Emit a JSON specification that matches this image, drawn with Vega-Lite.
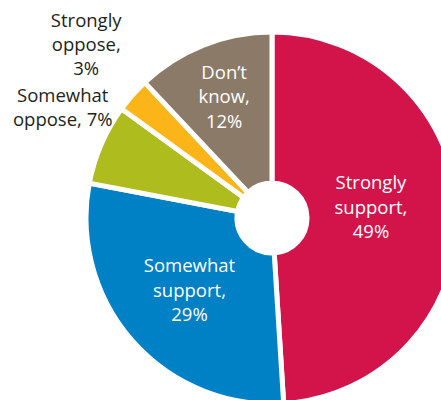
{
  "$schema": "https://vega.github.io/schema/vega-lite/v6.json",
  "width": 338,
  "height": 364,
  "autosize": {"type": "none"},
  "padding": {"left": 103, "top": 36, "right": 0, "bottom": 0},
  "background": "white",
  "view": {"stroke": null},
  "data": {
    "values": [
      {"cat": "Strongly support", "pct": 49, "ord": 1, "label": "Strongly\nsupport,\n49%"},
      {"cat": "Somewhat support", "pct": 29, "ord": 2, "label": "Somewhat\nsupport,\n29%"},
      {"cat": "Somewhat oppose", "pct": 7, "ord": 3, "label": "Somewhat\noppose, 7%"},
      {"cat": "Strongly oppose", "pct": 3, "ord": 4, "label": "Strongly\noppose,\n3%"},
      {"cat": "Don't know", "pct": 12, "ord": 5, "label": "Don’t\nknow,\n12%"}
    ]
  },
  "encoding": {
    "theta": {"field": "pct", "type": "quantitative", "stack": true},
    "order": {"field": "ord", "type": "quantitative"}
  },
  "layer": [
    {
      "mark": {"type": "arc", "radius": 186, "innerRadius": 35, "stroke": "white", "strokeWidth": 5},
      "encoding": {
        "color": {
          "field": "cat",
          "type": "nominal",
          "scale": {
            "domain": ["Strongly support", "Somewhat support", "Somewhat oppose", "Strongly oppose", "Don't know"],
            "range": ["#D2144A", "#0080C5", "#AFBC1E", "#FBB519", "#8C7A68"]
          },
          "legend": null
        }
      }
    },
    {
      "mark": {"type": "text", "radius": 99, "dy": -31.5, "font": "Open Sans", "fontSize": 18.5, "lineHeight": 24.5, "lineBreak": "\n", "fill": "white", "align": "center", "baseline": "middle"},
      "encoding": {"text": {"condition": {"test": "datum.ord === 1", "field": "label"}, "value": ""}}
    },
    {
      "mark": {"type": "text", "radius": 110, "dy": -24.5, "font": "Open Sans", "fontSize": 18.5, "lineHeight": 24.5, "lineBreak": "\n", "fill": "white", "align": "center", "baseline": "middle"},
      "encoding": {"text": {"condition": {"test": "datum.ord === 2", "field": "label"}, "value": ""}}
    },
    {
      "mark": {"type": "text", "radius": 130, "dy": -24.5, "font": "Open Sans", "fontSize": 18.5, "lineHeight": 24.5, "lineBreak": "\n", "fill": "white", "align": "center", "baseline": "middle"},
      "encoding": {"text": {"condition": {"test": "datum.ord === 5", "field": "label"}, "value": ""}}
    },
    {
      "mark": {"type": "text", "radius": 253, "dx": 4, "dy": -29.5, "font": "Open Sans", "fontSize": 18.5, "lineHeight": 24, "lineBreak": "\n", "fill": "#231F20", "align": "center", "baseline": "middle"},
      "encoding": {"text": {"condition": {"test": "datum.ord === 4", "field": "label"}, "value": ""}}
    },
    {
      "mark": {"type": "text", "radius": 228, "dy": -31, "font": "Open Sans", "fontSize": 18.5, "lineHeight": 23.5, "lineBreak": "\n", "fill": "#231F20", "align": "center", "baseline": "middle"},
      "encoding": {"text": {"condition": {"test": "datum.ord === 3", "field": "label"}, "value": ""}}
    }
  ]
}
